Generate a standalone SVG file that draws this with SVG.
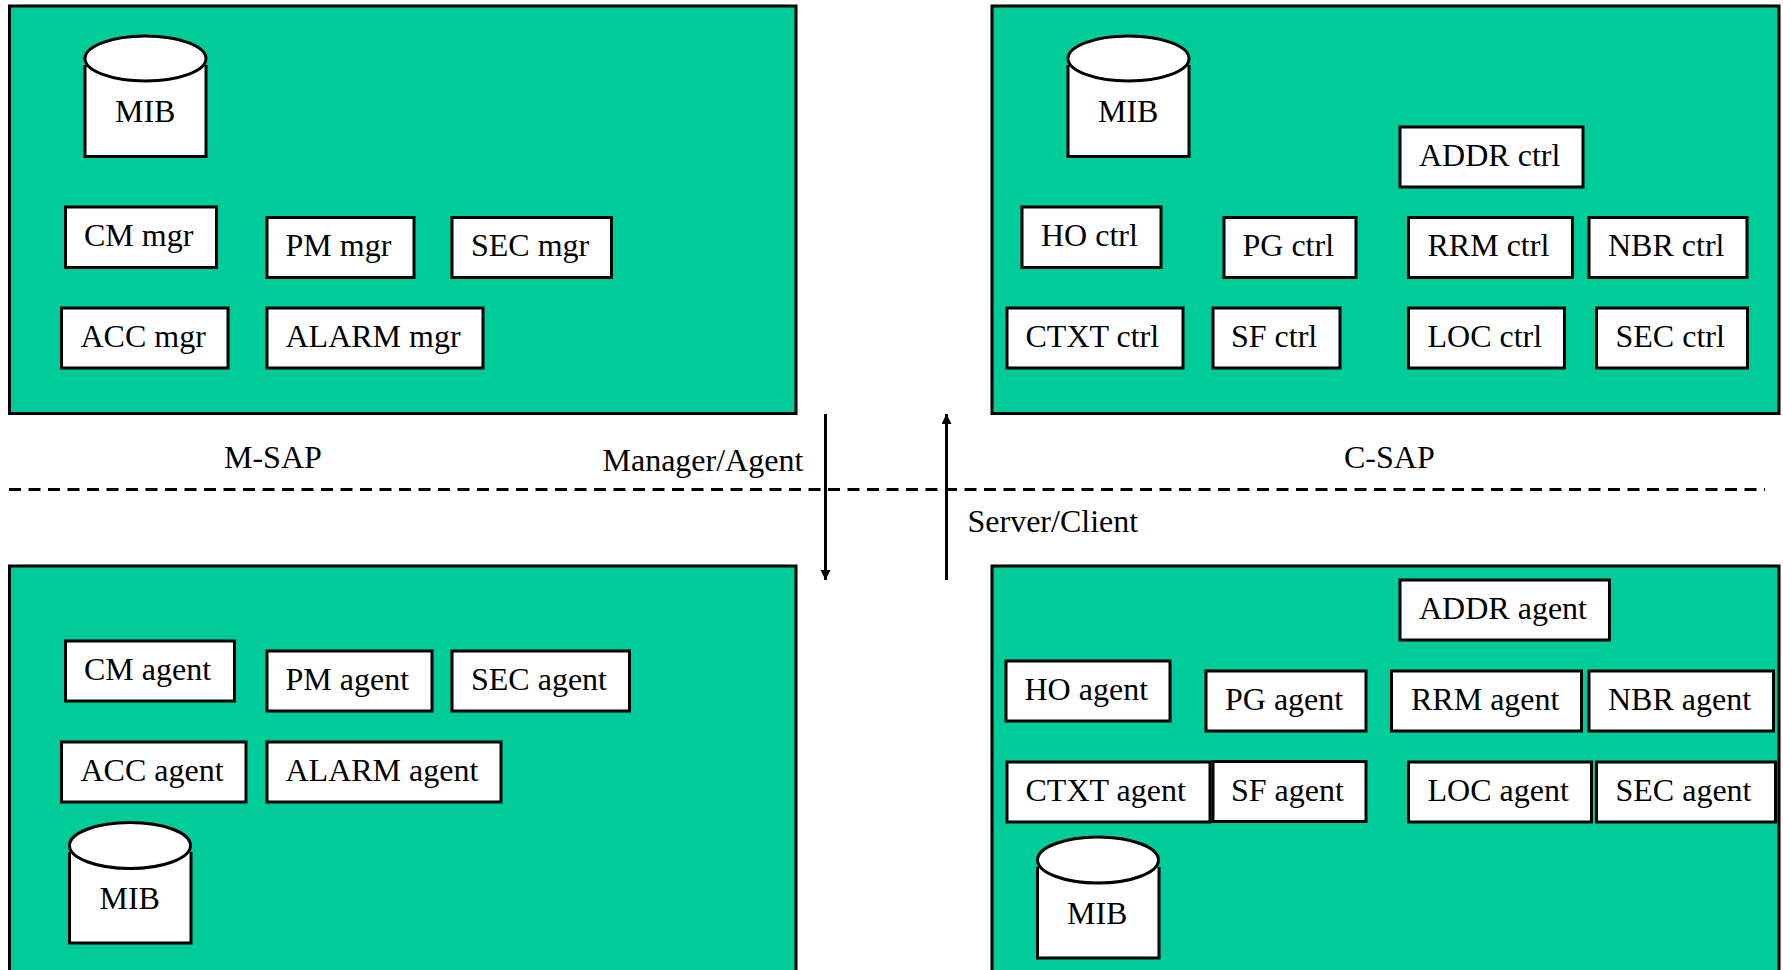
<svg xmlns="http://www.w3.org/2000/svg" width="1783" height="970" viewBox="0 0 1783 970">
<defs><marker id="ah" markerWidth="11" markerHeight="11" refX="10" refY="5" orient="auto" markerUnits="userSpaceOnUse"><path d="M0 0L10 5L0 10Z" fill="#000"/></marker></defs>
<style>
.p{fill:#00cc99;stroke:#000;stroke-width:3}
.b{fill:#fff;stroke:#000;stroke-width:3}
text{font-family:"Liberation Serif","Times New Roman",serif;font-size:32px;fill:#000}
.l{stroke:#000;stroke-width:3;fill:none}
</style>
<rect width="1783" height="970" fill="#fff"/>
<g id="panels">
<rect class="p" x="9.500" y="6" width="786.500" height="407.500"/>
<rect class="p" x="992" y="6" width="787" height="407.500"/>
<rect class="p" x="9.500" y="566" width="786.500" height="420"/>
<rect class="p" x="992" y="566" width="787" height="420"/>
</g>
<g id="connectors">
<path class="l" d="M9 489.500H1765" stroke-dasharray="12 7.500"/>
<path class="l" d="M825.500 414V580" marker-end="url(#ah)"/>
<path class="l" d="M946.500 580V414" marker-end="url(#ah)"/>
</g>
<g id="labels">
<text x="224" y="468">M-SAP</text>
<text x="602.500" y="471">Manager/Agent</text>
<text x="1344" y="468">C-SAP</text>
<text x="967.500" y="532">Server/Client</text>
</g>
<g id="mib1"><path class="b" d="M85 65V156.500H206V65"/><ellipse class="b" cx="145.500" cy="58.500" rx="60.500" ry="22.500"/><text x="115" y="122">MIB</text></g>
<g id="mib2"><path class="b" d="M1068 65V156.500H1189V65"/><ellipse class="b" cx="1128.500" cy="58.500" rx="60.500" ry="22.500"/><text x="1098" y="122">MIB</text></g>
<g id="mib3"><path class="b" d="M69.500 852V943H191V852"/><ellipse class="b" cx="130" cy="845.500" rx="60.500" ry="23"/><text x="99.500" y="909">MIB</text></g>
<g id="mib4"><path class="b" d="M1037.500 867V958H1159V867"/><ellipse class="b" cx="1098" cy="860" rx="60.500" ry="23"/><text x="1067" y="924">MIB</text></g>
<g id="cm-mgr"><rect class="b" x="65.500" y="207" width="151" height="60.500"/><text x="84" y="246">CM mgr</text></g>
<g id="pm-mgr"><rect class="b" x="267" y="217.500" width="147" height="60"/><text x="285.500" y="256">PM mgr</text></g>
<g id="sec-mgr"><rect class="b" x="452" y="217.500" width="159.500" height="60"/><text x="471" y="256">SEC mgr</text></g>
<g id="acc-mgr"><rect class="b" x="61.500" y="308" width="166.500" height="60"/><text x="80.500" y="347">ACC mgr</text></g>
<g id="alarm-mgr"><rect class="b" x="267" y="308" width="216" height="60"/><text x="285.500" y="347">ALARM mgr</text></g>
<g id="addr-ctrl"><rect class="b" x="1400" y="127" width="183" height="60"/><text x="1419" y="166">ADDR ctrl</text></g>
<g id="ho-ctrl"><rect class="b" x="1022" y="207" width="139" height="60.500"/><text x="1041" y="246">HO ctrl</text></g>
<g id="pg-ctrl"><rect class="b" x="1224" y="217.500" width="132" height="60"/><text x="1242.500" y="256">PG ctrl</text></g>
<g id="rrm-ctrl"><rect class="b" x="1408.500" y="217.500" width="164" height="60"/><text x="1427.500" y="256">RRM ctrl</text></g>
<g id="nbr-ctrl"><rect class="b" x="1589" y="217.500" width="158" height="60"/><text x="1608" y="256">NBR ctrl</text></g>
<g id="ctxt-ctrl"><rect class="b" x="1007" y="308" width="176" height="60"/><text x="1025.500" y="347">CTXT ctrl</text></g>
<g id="sf-ctrl"><rect class="b" x="1213" y="308" width="127" height="60"/><text x="1231" y="347">SF ctrl</text></g>
<g id="loc-ctrl"><rect class="b" x="1408.500" y="308" width="156" height="60"/><text x="1427.500" y="347">LOC ctrl</text></g>
<g id="sec-ctrl"><rect class="b" x="1596.500" y="308" width="151" height="60"/><text x="1615.500" y="347">SEC ctrl</text></g>
<g id="cm-agent"><rect class="b" x="65.500" y="641" width="169" height="60"/><text x="84" y="680">CM agent</text></g>
<g id="pm-agent"><rect class="b" x="267" y="651" width="165" height="60"/><text x="285.500" y="690">PM agent</text></g>
<g id="sec-agent"><rect class="b" x="452" y="651" width="177.500" height="60"/><text x="471" y="690">SEC agent</text></g>
<g id="acc-agent"><rect class="b" x="61.500" y="742" width="184.500" height="60"/><text x="80.500" y="781">ACC agent</text></g>
<g id="alarm-agent"><rect class="b" x="267" y="742" width="234" height="60"/><text x="285.500" y="781">ALARM agent</text></g>
<g id="addr-agent"><rect class="b" x="1400" y="580" width="209.500" height="60"/><text x="1419" y="619">ADDR agent</text></g>
<g id="ho-agent"><rect class="b" x="1006" y="661" width="164" height="60"/><text x="1024.500" y="700">HO agent</text></g>
<g id="pg-agent"><rect class="b" x="1206" y="671" width="160" height="60"/><text x="1225" y="709.500">PG agent</text></g>
<g id="rrm-agent"><rect class="b" x="1391.500" y="671" width="190" height="60"/><text x="1411" y="709.500">RRM agent</text></g>
<g id="nbr-agent"><rect class="b" x="1589" y="671" width="184.500" height="60"/><text x="1608" y="709.500">NBR agent</text></g>
<g id="ctxt-agent"><rect class="b" x="1007" y="762" width="203" height="60"/><text x="1025.500" y="801">CTXT agent</text></g>
<g id="sf-agent"><rect class="b" x="1213" y="761.500" width="153" height="60"/><text x="1231" y="800.500">SF agent</text></g>
<g id="loc-agent"><rect class="b" x="1408.500" y="762" width="183" height="60"/><text x="1427.500" y="801">LOC agent</text></g>
<g id="sec-agent-2"><rect class="b" x="1596.500" y="762" width="179" height="60"/><text x="1615.500" y="801">SEC agent</text></g>
</svg>
